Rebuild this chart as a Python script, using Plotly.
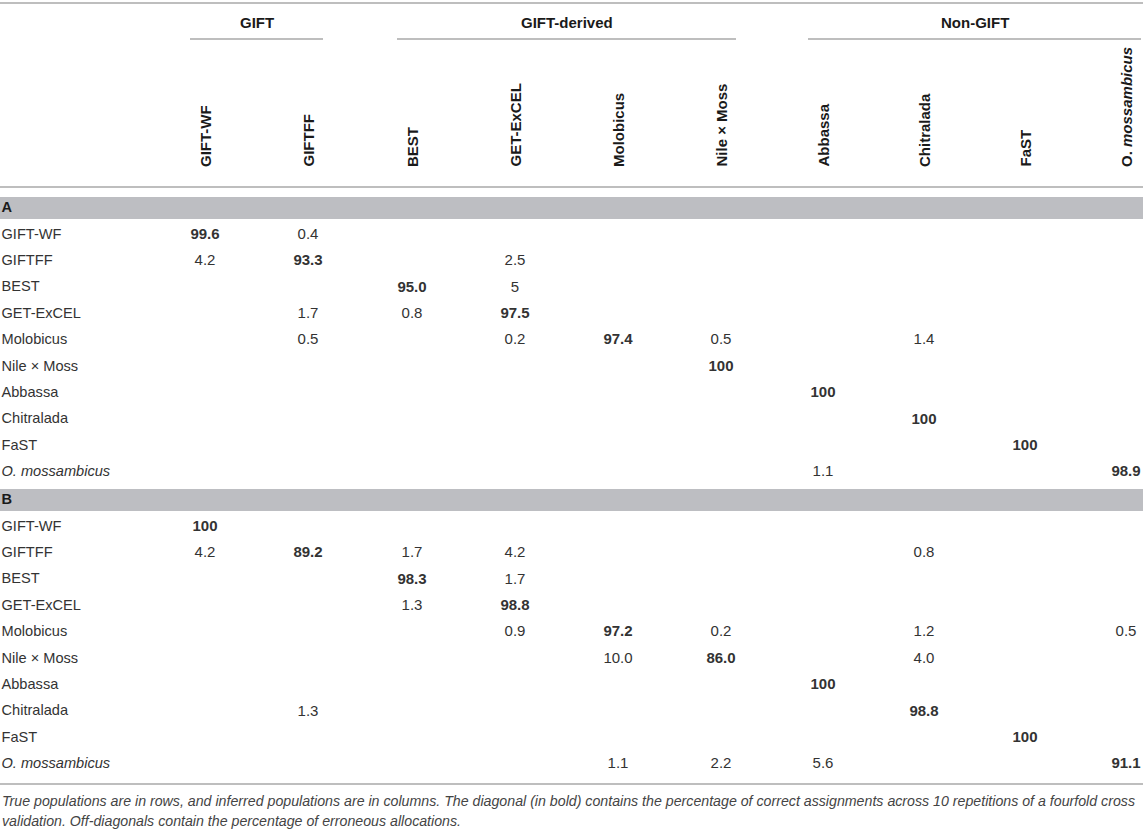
import plotly.graph_objects as go

# Table data: true populations in rows, inferred populations in columns
populations = ["GIFT-WF", "GIFTFF", "BEST", "GET-ExCEL", "Molobicus",
               "Nile × Moss", "Abbassa", "Chitralada", "FaST", "O. mossambicus"]
groups = ["GIFT", "GIFT-derived", "Non-GIFT"]
group_spans = [(0, 1), (2, 5), (6, 9)]   # first/last column of each group
panels = ["A", "B"]

panel_a = [
    ["99.6", "0.4", "", "", "", "", "", "", "", ""],
    ["4.2", "93.3", "", "2.5", "", "", "", "", "", ""],
    ["", "", "95.0", "5", "", "", "", "", "", ""],
    ["", "1.7", "0.8", "97.5", "", "", "", "", "", ""],
    ["", "0.5", "", "0.2", "97.4", "0.5", "", "1.4", "", ""],
    ["", "", "", "", "", "100", "", "", "", ""],
    ["", "", "", "", "", "", "100", "", "", ""],
    ["", "", "", "", "", "", "", "100", "", ""],
    ["", "", "", "", "", "", "", "", "100", ""],
    ["", "", "", "", "", "", "1.1", "", "", "98.9"],
]
panel_b = [
    ["100", "", "", "", "", "", "", "", "", ""],
    ["4.2", "89.2", "1.7", "4.2", "", "", "", "0.8", "", ""],
    ["", "", "98.3", "1.7", "", "", "", "", "", ""],
    ["", "", "1.3", "98.8", "", "", "", "", "", ""],
    ["", "", "", "0.9", "97.2", "0.2", "", "1.2", "", "0.5"],
    ["", "", "", "", "10.0", "86.0", "", "4.0", "", ""],
    ["", "", "", "", "", "", "100", "", "", ""],
    ["", "1.3", "", "", "", "", "", "98.8", "", ""],
    ["", "", "", "", "", "", "", "", "100", ""],
    ["", "", "", "", "1.1", "2.2", "5.6", "", "", "91.1"],
]

footnote = [
    "True populations are in rows, and inferred populations are in columns. The diagonal (in bold) "
    "contains the percentage of correct assignments across 10 repetitions of a fourfold cross",
    "validation. Off-diagonals contain the percentage of erroneous allocations.",
]

# layout (pixel grid of the page)
W, H = 1143, 832
col_x = [205, 308, 412, 515, 618, 721, 823, 924, 1025, 1126]
band_top = [197, 489]
band_h = 22
row_step = 26.4
first_row_gap = 38
FONT = "Liberation Sans"
TXT = "#333333"
BOLD = "#1a1a1a"
LINE = "#a9a9a9"
BAND = "#bdbec2"


def label(name, bold=False):
    s = "<i>%s</i>" % name if name.startswith("O. ") else name
    return "<b>%s</b>" % s if bold else s


fig = go.Figure()
shapes = []
annotations = []

for p, (panel, values) in enumerate(zip(panels, [panel_a, panel_b])):
    top = band_top[p]
    shapes.append(dict(type="rect", x0=0, x1=W, y0=top, y1=top + band_h,
                       fillcolor=BAND, line=dict(width=0), layer="below"))
    row_y = [top + first_row_gap + i * row_step for i in range(len(populations))]

    # section letter + row labels
    fig.add_trace(go.Scatter(
        x=[1.5] * (len(populations) + 1), y=[top + band_h / 2] + row_y,
        mode="text", text=["<b>%s</b>" % panel] + [label(n) for n in populations],
        textposition="middle right", hoverinfo="skip",
        textfont=dict(family=FONT, size=14.6, color=[BOLD] + [TXT] * len(populations)),
    ))

    # cell values
    xs, ys, ts = [], [], []
    for i, row in enumerate(values):
        for j, v in enumerate(row):
            if v:
                xs.append(col_x[j])
                ys.append(row_y[i])
                ts.append("<b>%s</b>" % v if i == j else v)
    fig.add_trace(go.Scatter(
        x=xs, y=ys, mode="text", text=ts, textposition="middle center",
        hoverinfo="skip", textfont=dict(family=FONT, size=15, color=TXT),
    ))

# column headers (rotated)
for j, name in enumerate(populations):
    txt = "<b>O. <i>mossambicus</i></b>" if name.startswith("O. ") else "<b>%s</b>" % name
    annotations.append(dict(x=col_x[j], y=169, xref="x", yref="y", text=txt,
                            textangle=-90, showarrow=False, xanchor="center",
                            yanchor="bottom", font=dict(family=FONT, size=15, color=BOLD)))

# group headers and their underlines
for g, (a, b) in zip(groups, group_spans):
    annotations.append(dict(x=(col_x[a] + col_x[b]) / 2, y=22, xref="x", yref="y",
                            text="<b>%s</b>" % g, showarrow=False,
                            font=dict(family=FONT, size=15, color=BOLD)))
    shapes.append(dict(type="line", x0=col_x[a] - 15, x1=min(col_x[b] + 15, W),
                       y0=39, y1=39, line=dict(color=LINE, width=1.5)))

# rules
for y in [3, 187, 784]:
    shapes.append(dict(type="line", x0=0, x1=W, y0=y, y1=y,
                       line=dict(color=LINE, width=1.5)))

# footnote
for k, line in enumerate(footnote):
    annotations.append(dict(x=0, y=801 + k * 20, xref="x", yref="y",
                            text="<i>%s</i>" % line, showarrow=False,
                            xanchor="left", font=dict(family=FONT, size=14.2, color="#444444")))

fig.update_layout(
    width=W, height=H,
    margin=dict(l=0, r=0, t=0, b=0),
    paper_bgcolor="white", plot_bgcolor="white",
    showlegend=False,
    shapes=shapes, annotations=annotations,
    xaxis=dict(range=[0, W], visible=False, fixedrange=True),
    yaxis=dict(range=[H, 0], visible=False, fixedrange=True),
)

fig.write_html("out.html", config={"displayModeBar": False},
               post_script="document.body.style.margin='0';")
